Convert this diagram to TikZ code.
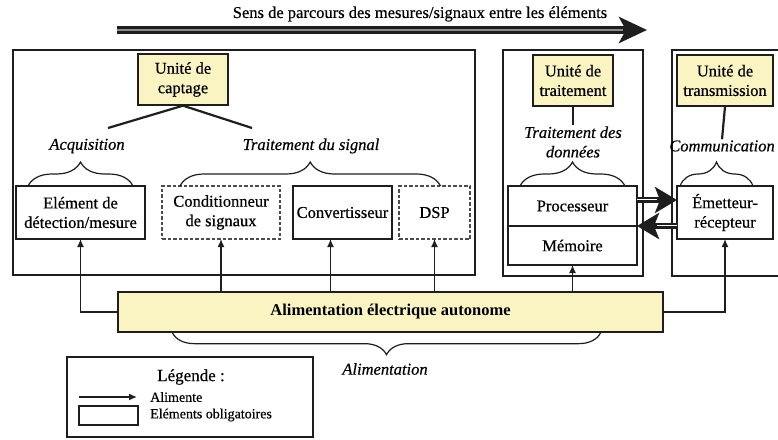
\documentclass[tikz,border=0pt]{standalone}
\usepackage{fontspec}
\setmainfont{Liberation Serif}[UprightFeatures={FakeBold=0.5}, ItalicFeatures={FakeBold=0.5}]
\usepackage{xcolor}
\usepackage{tikz}
\usetikzlibrary{positioning, arrows.meta, calc, decorations.pathreplacing}
\definecolor{unityellow}{HTML}{FAF4C2}
\definecolor{inkgray}{HTML}{1E1E1E}

\tikzset{
  txt/.style={font=\fontsize{16.5}{19.5}\selectfont},
  frame/.style={draw=inkgray, line width=2.6pt, inner sep=0pt, outer sep=0pt},
  unitbox/.style={draw=inkgray, line width=1.3pt, fill=unityellow, align=center, inner sep=0pt, minimum height=51pt, txt},
  elem/.style={draw=inkgray, line width=1.3pt, align=center, inner sep=0pt, outer sep=0pt, minimum height=53pt, txt},
  optelem/.style={elem, draw=black!70, dash pattern=on 3.5pt off 2pt},
  role/.style={font=\fontsize{16.5}{19.5}\selectfont\itshape, align=center, inner sep=1pt},
  feed/.style={draw=inkgray, line width=1.4pt, -{Latex[length=8pt,width=7pt]}},
  hbrace/.style={decorate, decoration={brace, amplitude=24pt, aspect=0.5}, line width=1.2pt, draw=inkgray},
  bus/.style={draw=inkgray, line width=5.5pt, -{Stealth[length=22pt,width=26pt,inset=5pt]}},
  busstripe/.style={draw=white, double=inkgray, line width=0.8pt, double distance=1pt},
}

\begin{document}
\begin{tikzpicture}[x=1pt, y=-1pt]
  \useasboundingbox (0,0) rectangle (778,439);
  \clip (0,0) rectangle (778,439);

  % direction of the measures
  \coordinate (sens start) at (117,30);
  \coordinate (sens end) at (647,30);
  \node[txt] (sens) at (420,14) {Sens de parcours des mesures/signaux entre les éléments};
  \draw[inkgray, line width=7.5pt, -{Stealth[length=28pt,width=26pt,inset=7pt]}] (sens start) -- (sens end);
  \draw[black!45, line width=2.5pt, shorten >=24pt] (sens start) -- (sens end);

  % the three units
  \node[frame, minimum width=462pt, minimum height=225pt] (fcapt) at (244,162.5) {};
  \node[frame, minimum width=140pt, minimum height=226pt] (ftrait) at (573,163) {};
  \node[frame, minimum width=128pt, minimum height=226pt] (ftrans) at (736,163) {};

  \node[unitbox, minimum width=90pt] (ucapt) at (183,79.5) {Unité de\\captage};
  \node[unitbox, minimum width=80pt] (utrait) at (573,80.5) {Unité de\\traitement};
  \node[unitbox, minimum width=96pt] (utrans) at (725,80.5) {Unité de\\transmission};

  \node[role] (acq) at (87,146) {Acquisition};
  \node[role] (sig) at (311,146) {Traitement du signal};
  \node[role] (donnees) at (573,142) {Traitement des\\données};
  \node[role] (comm) at (722,146) {Communication};

  \coordinate (acq tie) at (108,128);
  \coordinate (sig tie) at (252,128);
  \draw[inkgray, line width=2.2pt] (acq tie) -- (ucapt.south) -- (sig tie);
  \draw[inkgray, line width=2.2pt] (utrait.south) -- (donnees.north);
  \draw[inkgray, line width=2.2pt] (utrans.south) -- (comm.north);

  % elements
  \node[elem, minimum width=129pt] (det) at (80.5,212.5) {Elément de\\détection/mesure};
  \node[optelem, minimum width=118pt] (cond) at (221,212.5) {Conditionneur\\de signaux};
  \node[elem, minimum width=99pt] (conv) at (342.5,212.5) {Convertisseur};
  \node[optelem, minimum width=71pt] (dsp) at (434.5,212.5) {DSP};
  \node[elem, minimum width=129pt, minimum height=40pt] (proc) at (572.5,206) {Processeur};
  \node[elem, minimum width=129pt, minimum height=39pt, below=0pt of proc] (mem) {Mémoire};
  \node[elem, minimum width=96pt] (emet) at (725,212.5) {Émetteur-\\récepteur};

  % braces
  \draw[hbrace] ([xshift=12pt]det.north west) -- ([xshift=-12pt]det.north east);
  \draw[hbrace] ([xshift=18pt]cond.north west) -- ([xshift=6pt]dsp.north);
  \draw[hbrace] ([xshift=12pt]proc.north west) -- ([xshift=-12pt]proc.north east);
  \draw[hbrace] ([xshift=3pt]emet.north west) -- ([xshift=-20pt]emet.north east);

  % exchange processing <-> transmission
  \coordinate (tx from) at ([yshift=6pt]proc.east);
  \coordinate (rx to) at (proc.south east);
  \draw[bus] (tx from) -- (tx from -| emet.west);
  \draw[busstripe, shorten >=20pt] (tx from) -- (tx from -| emet.west);
  \draw[bus] (rx to -| emet.west) -- (rx to);
  \draw[busstripe, shorten >=20pt] (rx to -| emet.west) -- (rx to);

  % power supply
  \node[unitbox, minimum width=545pt, minimum height=40pt, font=\fontsize{16.5}{19.5}\selectfont\bfseries] (alim) at (390.5,312) {Alimentation électrique autonome};
  \coordinate (conv feed) at ([xshift=-12pt]conv.south);
  \draw[feed] (alim.west) -| (det.south);
  \draw[feed] (alim.north -| cond.south) -- (cond.south);
  \draw[feed] (alim.north -| conv feed) -- (conv feed);
  \draw[feed] (alim.north -| dsp.south) -- (dsp.south);
  \draw[feed] (alim.north -| mem.south) -- (mem.south);
  \draw[feed] (alim.east) -| (emet.south);
  \draw[hbrace, decoration={brace, amplitude=22pt, aspect=0.5}] ([xshift=-63pt]alim.south east) -- ([xshift=55pt]alim.south west);
  \node[role] (alimrole) at (385,369) {Alimentation};

  % legend
  \node[draw=inkgray, line width=1.3pt, minimum width=246pt, minimum height=80pt, inner sep=0pt] (leg) at (190,397) {};
  \node[font=\fontsize{17}{19}\selectfont] (legtitle) at (191,377) {Légende :};
  \coordinate (leg a) at (79,397);
  \coordinate (leg b) at (137,397);
  \draw[feed] (leg a) -- (leg b);
  \node[font=\fontsize{14}{16}\selectfont, anchor=west, inner sep=0pt] (legfeed) at (150,397) {Alimente};
  \node[elem, minimum width=59pt, minimum height=19pt] (legbox) at (108.5,415.5) {};
  \node[font=\fontsize{14}{16}\selectfont, anchor=west, inner sep=0pt] (legelem) at (150,415) {Eléments obligatoires};
\end{tikzpicture}
\end{document}
